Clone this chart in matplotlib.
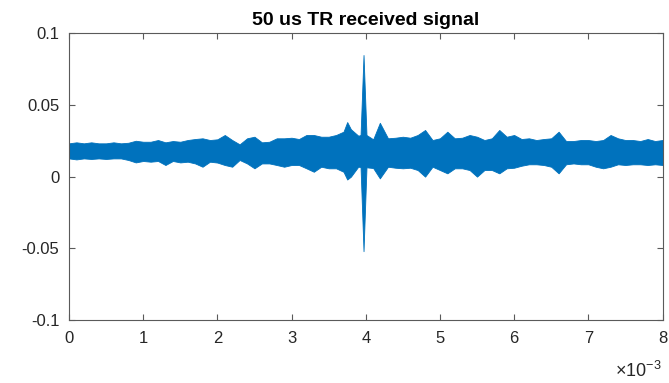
import numpy as np
import matplotlib
matplotlib.use("Agg")
import matplotlib.pyplot as plt

plt.rcParams["font.family"] = ["Liberation Sans", "DejaVu Sans"]
plt.rcParams["mathtext.fontset"] = "custom"
plt.rcParams["mathtext.rm"] = "Liberation Sans"
plt.rcParams["mathtext.it"] = "Liberation Sans"

# Envelope of the received signal (time in ms)
time_ms = [
    0.0, 0.1, 0.2, 0.3, 0.4, 0.5, 0.6, 0.7, 0.8, 0.9,
    1.0, 1.1, 1.2, 1.3, 1.4, 1.5, 1.6, 1.7, 1.8, 1.9,
    2.0, 2.1, 2.2, 2.3, 2.4, 2.5, 2.6, 2.7, 2.8, 2.9,
    3.0, 3.1, 3.2, 3.3, 3.4, 3.5, 3.6, 3.7, 3.75, 3.8, 3.9,
    3.93, 3.97, 4.01,
    4.1, 4.19, 4.3, 4.4, 4.5, 4.6, 4.7, 4.8, 4.9,
    5.0, 5.1, 5.2, 5.3, 5.4, 5.5, 5.6, 5.7, 5.8, 5.9,
    6.0, 6.1, 6.2, 6.3, 6.4, 6.5, 6.6, 6.7, 6.8, 6.9,
    7.0, 7.1, 7.2, 7.3, 7.4, 7.5, 7.6, 7.7, 7.8, 7.9, 8.0,
]
upper = [
    0.0232, 0.0239, 0.0232, 0.0239, 0.0232, 0.0232, 0.0239, 0.0232, 0.0236, 0.0250,
    0.0243, 0.0243, 0.0255, 0.0239, 0.0248, 0.0243, 0.0255, 0.0262, 0.0267, 0.0255,
    0.0260, 0.0290, 0.0255, 0.0225, 0.0267, 0.0278, 0.0239, 0.0243, 0.0267, 0.0267,
    0.0271, 0.0262, 0.0290, 0.0290, 0.0278, 0.0278, 0.0290, 0.0313, 0.0380, 0.0330, 0.0285,
    0.0290, 0.0847, 0.0290,
    0.0260, 0.0375, 0.0267, 0.0271, 0.0278, 0.0271, 0.0290, 0.0325, 0.0255,
    0.0267, 0.0313, 0.0267, 0.0271, 0.0290, 0.0278, 0.0255, 0.0267, 0.0325, 0.0278,
    0.0290, 0.0262, 0.0267, 0.0255, 0.0262, 0.0267, 0.0313, 0.0248, 0.0248, 0.0255,
    0.0255, 0.0248, 0.0255, 0.0290, 0.0267, 0.0255, 0.0255, 0.0248, 0.0262, 0.0248, 0.0255,
]
lower = [
    0.0127, 0.0120, 0.0127, 0.0123, 0.0127, 0.0123, 0.0127, 0.0127, 0.0116, 0.0099,
    0.0109, 0.0104, 0.0109, 0.0081, 0.0109, 0.0099, 0.0104, 0.0092, 0.0069, 0.0104,
    0.0098, 0.0081, 0.0069, 0.0116, 0.0092, 0.0058, 0.0092, 0.0092, 0.0081, 0.0069,
    0.0081, 0.0081, 0.0058, 0.0034, 0.0069, 0.0058, 0.0058, 0.0034, -0.0020, 0.0000, 0.0070,
    0.0065, -0.0519, 0.0065,
    0.0060, -0.0012, 0.0069, 0.0062, 0.0058, 0.0062, 0.0046, 0.0000, 0.0069,
    0.0046, 0.0023, 0.0058, 0.0058, 0.0046, 0.0000, 0.0046, 0.0046, 0.0023, 0.0058,
    0.0062, 0.0076, 0.0086, 0.0086, 0.0081, 0.0069, 0.0023, 0.0086, 0.0092, 0.0086,
    0.0086, 0.0069, 0.0058, 0.0069, 0.0086, 0.0081, 0.0086, 0.0086, 0.0081, 0.0086, 0.0081,
]

x_ticks = [0, 1, 2, 3, 4, 5, 6, 7, 8]
y_ticks = [-0.1, -0.05, 0, 0.05, 0.1]
y_tick_labels = ["-0.1", "-0.05", "0", "0.05", "0.1"]

line_color = "#0072BD"
axis_color = "#5a5a5a"
text_color = "#262626"

t = np.array(time_ms) * 1e-3

fig = plt.figure(figsize=(6.69, 3.83), dpi=100)
ax = fig.add_axes([69 / 669, 1 - 320.3 / 383, (662.5 - 69) / 669, (320.3 - 33) / 383])

ax.fill_between(t, lower, upper, color=line_color, linewidth=0.6, edgecolor=line_color)

ax.set_xlim(0, 8e-3)
ax.set_ylim(-0.1, 0.1)
ax.set_xticks([v * 1e-3 for v in x_ticks])
ax.set_xticklabels([str(v) for v in x_ticks])
ax.set_yticks(y_ticks)
ax.set_yticklabels(y_tick_labels)

for side in ax.spines.values():
    side.set_color(axis_color)
    side.set_linewidth(0.8)
ax.tick_params(direction="in", length=4, width=0.8, color=axis_color,
               labelcolor=text_color, labelsize=12, top=True, right=True)
ax.tick_params(axis="x", pad=8)
ax.tick_params(axis="y", pad=7)

ax.set_title("50 us TR received signal", fontsize=14, fontweight="bold",
             color="black", pad=6)

fig.text(662 / 669, 1 - 377 / 383, r"$\times10^{-3}$", ha="right", va="baseline",
         fontsize=13, color=text_color)

fig.savefig("out.png", dpi=100)
